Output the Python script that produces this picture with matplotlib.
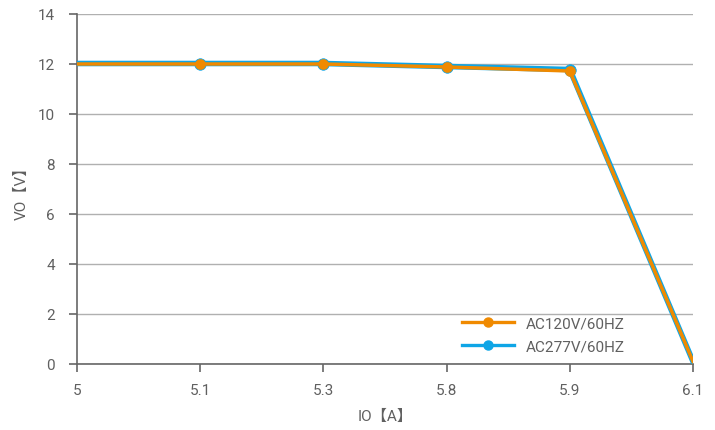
import matplotlib.pyplot as plt

plt.rcParams['font.family'] = ['Roboto', 'Noto Sans CJK SC', 'DejaVu Sans']

# 数据
io_labels = ['5', '5.1', '5.3', '5.8', '5.9', '6.1']
vo_120 = [12.0, 12.0, 12.0, 11.88, 11.72, 0.1]
vo_277 = [12.02, 12.02, 12.02, 11.9, 11.78, 0.1]

orange = '#f08a00'
blue = '#0ea5e6'
text_col = '#606060'

fig = plt.figure(figsize=(7.15, 4.31), dpi=100)
ax = fig.add_axes([77 / 715, (431 - 365) / 431, (693 - 77) / 715, (365 - 15) / 431])

x = list(range(len(io_labels)))
pts = [1, 2, 3, 4]

# 蓝线在下面，较粗；橙线在上面
ax.plot(x, vo_277, color=blue, lw=4.0, marker='o', ms=8.3, mfc=blue, mec=blue, mew=0.5,
        markevery=pts, zorder=3, solid_joinstyle='round')
ax.plot(x, vo_120, color=orange, lw=2.5, marker='o', ms=7.4, mfc=orange, mec=orange, mew=0.3,
        markevery=pts, zorder=4, solid_joinstyle='round')

# 图例
h1, = ax.plot([], [], color=orange, lw=2.4, marker='o', ms=6.5)
h2, = ax.plot([], [], color=blue, lw=2.4, marker='o', ms=6.5)
ax.legend([h1, h2], ['AC120V/60HZ', 'AC277V/60HZ'], loc='center left',
          bbox_to_anchor=(0.625, 0.083), frameon=False, fontsize=11,
          labelcolor=text_col, handlelength=3.4, handletextpad=0.8, labelspacing=0.55,
          borderpad=0, borderaxespad=0)

ax.set_xlim(0, len(io_labels) - 1)
ax.set_ylim(0, 14)
ax.set_xticks(x)
ax.set_xticklabels(io_labels)
ax.set_yticks(range(0, 15, 2))
ax.grid(axis='y', color='#b0b0b0', lw=1)
ax.set_axisbelow(True)

for s in ['top', 'right']:
    ax.spines[s].set_visible(False)
for s in ['left', 'bottom']:
    ax.spines[s].set_color('#666666')
    ax.spines[s].set_linewidth(1.2)
ax.tick_params(colors='#666666', labelcolor=text_col, labelsize=11, length=6, width=1.2)
ax.tick_params(axis='x', pad=8)
ax.tick_params(axis='y', pad=10)

ax.set_xlabel('IO【A】', color=text_col, fontsize=11, labelpad=8)
ax.set_ylabel('VO【V】', color=text_col, fontsize=11, labelpad=6)

fig.savefig('out.png', dpi=100)
